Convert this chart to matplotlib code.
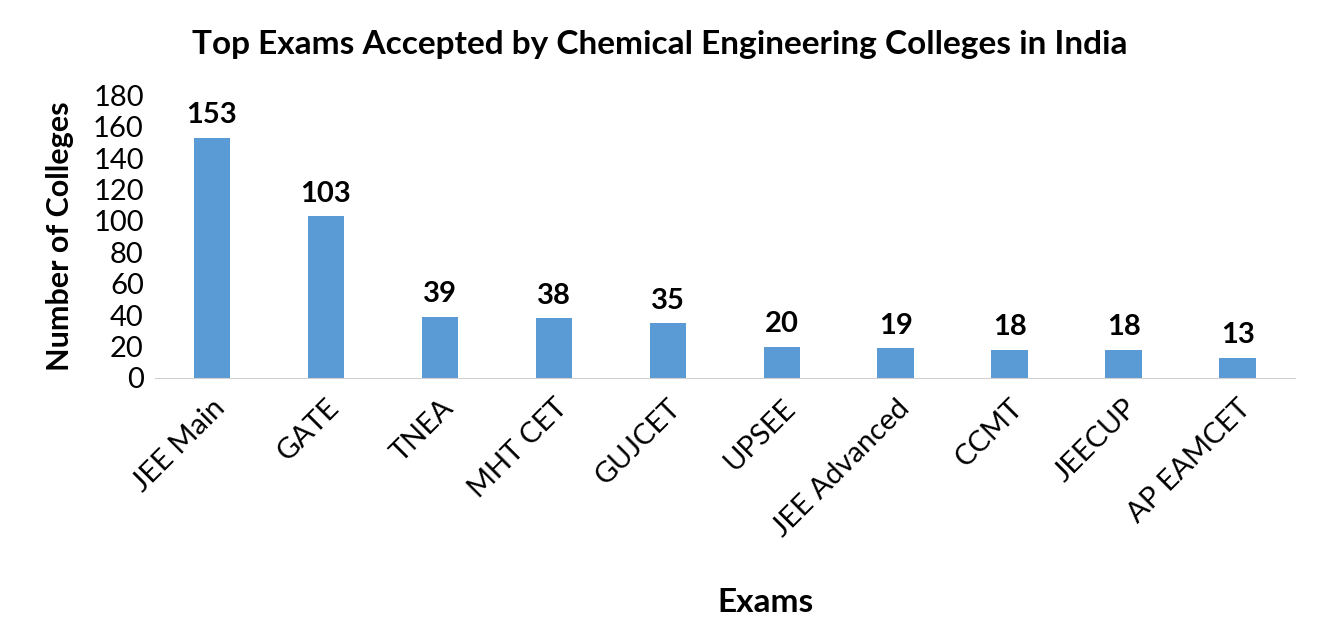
import matplotlib.pyplot as plt

exams = ['JEE Main', 'GATE', 'TNEA', 'MHT CET', 'GUJCET', 'UPSEE',
         'JEE Advanced', 'CCMT', 'JEECUP', 'AP EAMCET']
colleges = [153, 103, 39, 38, 35, 20, 19, 18, 18, 13]

plt.rcParams['font.family'] = ['Lato', 'DejaVu Sans']

fig = plt.figure(figsize=(13.19, 6.37), dpi=100)
ax = fig.add_axes([0.1175, 0.4066, 0.864, 0.444])

x = range(len(exams))
ax.bar(x, colleges, width=0.32, color='#5B9BD5')
for i, v in enumerate(colleges):
    ax.text(i, v + 6, str(v), ha='center', va='bottom', fontsize=21, fontweight='bold')

ax.set_xlim(-0.5, len(exams) - 0.5)
ax.set_ylim(0, 180)
ax.set_yticks(range(0, 181, 20))
ax.set_xticks(list(x))
ax.set_xticklabels(exams, rotation=45, ha='right', rotation_mode='anchor', fontsize=21)
ax.tick_params(axis='y', labelsize=21, length=0, pad=8)
ax.tick_params(axis='x', length=0, pad=12)

for s in ['top', 'right', 'left']:
    ax.spines[s].set_visible(False)
ax.spines['bottom'].set_color('#d0d0d0')

ax.set_ylabel('Number of Colleges', fontsize=22, fontweight='bold', labelpad=14)
fig.text(0.58, 0.04, 'Exams', ha='center', fontsize=24, fontweight='bold')
fig.text(0.5, 0.915, 'Top Exams Accepted by Chemical Engineering Colleges in India',
         ha='center', fontsize=24, fontweight='bold')

fig.savefig('out.png', dpi=100)
